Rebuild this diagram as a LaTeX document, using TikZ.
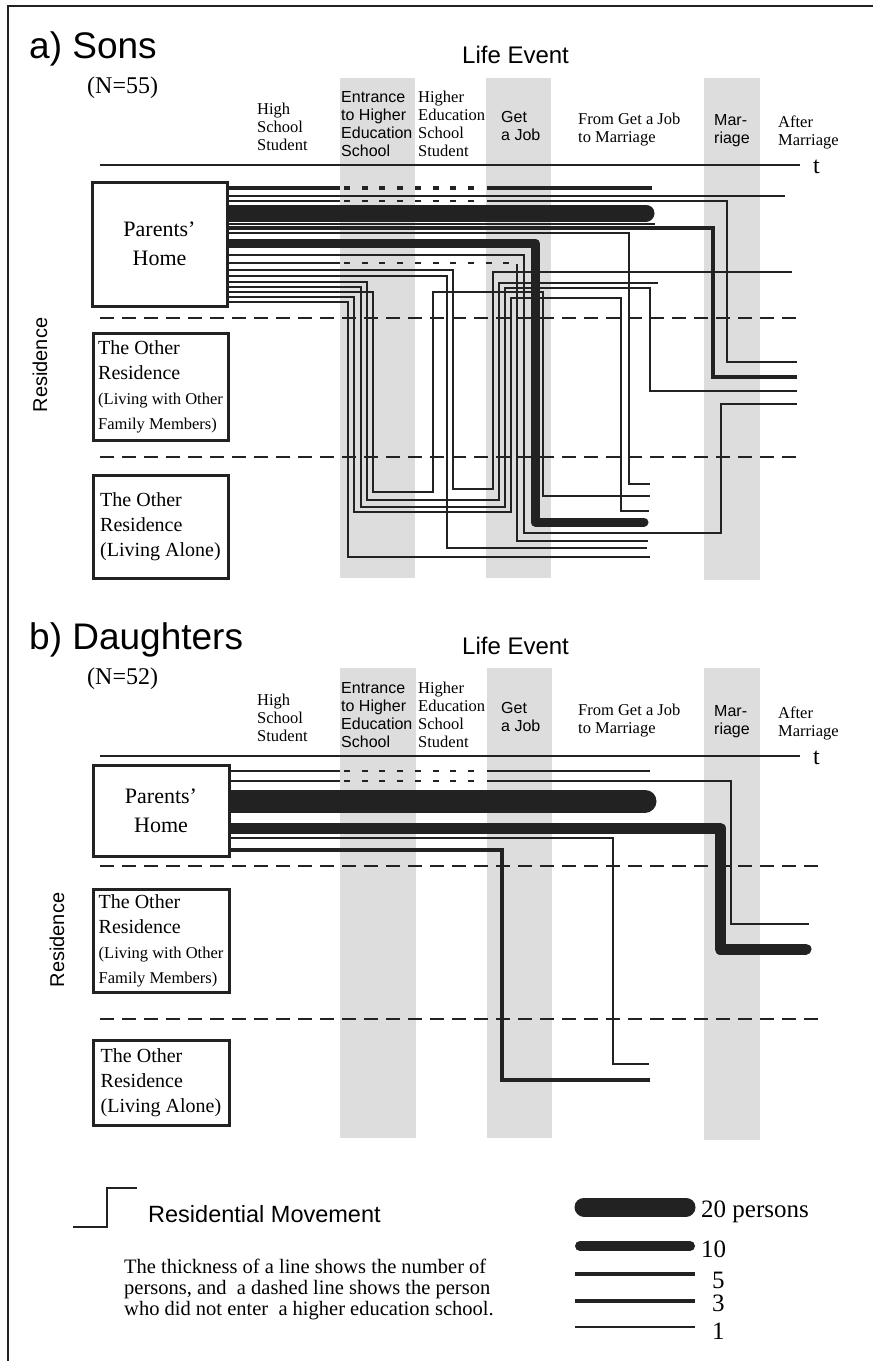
\documentclass[tikz,border=0pt]{standalone}
\usepackage{fontspec}
\setmainfont{Liberation Serif}
\setsansfont{Liberation Sans}
\usetikzlibrary{backgrounds}
\definecolor{ink}{HTML}{222222}
\definecolor{band}{HTML}{DDDDDD}
\newcommand{\fsz}[2]{\fontsize{#1}{#2}\selectfont}
\tikzset{
  res/.style={draw=ink,line width=3pt,fill=white,inner sep=0pt,align=left,font=\fsz{20}{25}},
  hd/.style={anchor=north west,inner sep=0pt,align=left,font=\sffamily\fsz{16}{18}},
  hds/.style={anchor=north west,inner sep=0pt,align=left,font=\fsz{16.5}{18}},
  big/.style={anchor=base west,inner sep=0pt,font=\sffamily\fsz{37}{40}},
  ev/.style={anchor=base west,inner sep=0pt,font=\sffamily\fsz{24}{28}},
  txt/.style={anchor=base west,inner sep=0pt,font=\fsz{24}{28}},
  lg/.style={anchor=base west,inner sep=0pt,font=\fsz{25}{28}},
  axis/.style={ink,line width=1.4pt},
  sep/.style={ink,line width=1.2pt,dash pattern=on 14pt off 8pt},
  p1/.style={ink,line width=1.4pt},
  p3/.style={ink,line width=2.5pt},
  p5/.style={ink,line width=4pt},
  p10/.style={ink,line width=9pt,line cap=round,line join=round},
  p20/.style={ink,line width=17pt,line cap=round},
  gap/.style={dash pattern=on 6pt off 11.7pt}}

\begin{document}
\begin{tikzpicture}[x=1pt,y=-1pt]
\useasboundingbox (0,0) rectangle (873,1361);
\draw[ink,line width=1.5pt] (8,1361) -- (8,6) -- (873,6);

% headings, the same in both parts
\foreach \dy/\who/\nn in {0/{a) Sons}/55,591/{b) Daughters}/52}{
\begin{scope}[yshift=-\dy pt]
\node[big] (ttl\dy) at (29,58) {\who};
\node[ev] (ev\dy) at (462,63) {Life Event};
\node[txt] (n\dy) at (87,93) {(N=\nn)};
\node[hds] (hs\dy) at (257,103) {High\\School\\Student};
\node[hd] (en\dy) at (341,91) {Entrance\\to Higher\\Education\\School};
\node[hds] (he\dy) at (418,91) {Higher\\Education\\School\\Student};
\node[hd] (job\dy) at (501,111) {Get\\a Job};
\node[hds] (fj\dy) at (578,113) {From Get a Job\\to Marriage};
\node[hd] (mar\dy) at (714,114) {Mar-\\riage};
\node[hds] (am\dy) at (778,116) {After\\Marriage};
\node[txt] (t\dy) at (813,173) {t};
\draw[axis] (100,165) -- (800,165);
\end{scope}}

% residences
\node[res,minimum width=135pt,minimum height=124pt,align=center,font=\fsz{22}{29}] (home1) at (159.5,244) {Parents'\\Home};
\node[res,minimum width=135pt,minimum height=107pt] (kin1) at (160.5,386.5) {The Other\\Residence\\\fsz{16.5}{21}(Living with Other\\\fsz{16.5}{21}Family Members)};
\node[res,minimum width=135pt,minimum height=103pt] (alone1) at (160.5,526.5) {The Other\\Residence\\(Living Alone)};
\node[res,minimum width=136pt,minimum height=91pt,align=center,font=\fsz{22}{29}] (home2) at (161,810.5) {Parents'\\Home};
\node[res,minimum width=136pt,minimum height=103pt] (kin2) at (161,940.5) {The Other\\Residence\\\fsz{16.5}{21}(Living with Other\\\fsz{16.5}{21}Family Members)};
\node[res,minimum width=136pt,minimum height=85pt] (alone2) at (161,1082.5) {The Other\\Residence\\(Living Alone)};
\node[rotate=90,font=\sffamily\fsz{20}{24}] (rs1) at (40,365) {Residence};
\node[rotate=90,font=\sffamily\fsz{20}{24}] (rs2) at (57,940) {Residence};

\begin{scope}[on background layer]
\fill[white] (0,0) rectangle (873,1361);
% event bands
\fill[band] (340,78) rectangle (415,578);
\fill[band] (486,78) rectangle (551,578);
\fill[band] (704,78) rectangle (760,580);
\fill[band] (340,668) rectangle (416,1138);
\fill[band] (487,668) rectangle (552,1138);
\fill[band] (704,668) rectangle (760,1140);
\draw[sep] (100,318) -- (800,318);
\draw[sep] (100,457) -- (800,457);
\draw[sep] (100,866) -- (822,866);
\draw[sep] (100,1019) -- (822,1019);

% sons
\draw[p5] (home1.east|-0,188) -- (340,188);
\draw[p5,gap] (344,188) -- (483,188);
\draw[p5] (487,188) -- (652,188);
\draw[p1] (home1.east|-0,196) -- (785,196);
\draw[p3] (home1.east|-0,201) -- (340,201);
\draw[p3,gap] (344,201) -- (483,201);
\draw[p3] (487,201) -- (727,201) -- (727,362) -- (797,362);
\draw[p20] (home1.east|-0,213) -- (646,213);
\draw[p1] (home1.east|-0,224) -- (655,224);
\draw[p5] (home1.east|-0,228) -- (713,228) -- (713,377) -- (797,377);
\draw[p1] (home1.east|-0,233) -- (629,233) -- (629,484) -- (650,484);
\draw[p10] (home1.east|-0,243) -- (535,243) -- (535,522) -- (644,522);
\draw[p1] (home1.east|-0,255) -- (524,255) -- (524,533) -- (721,533) -- (721,404) -- (797,404);
\draw[p1] (home1.east|-0,263) -- (340,263);
\draw[p1,gap] (344,263) -- (512,263);
\draw[p1] (517,264) -- (517,541) -- (648,541);
\draw[p1] (home1.east|-0,270) -- (453,270) -- (453,489) -- (493,489) -- (493,272) -- (792,272);
\draw[p1] (home1.east|-0,276) -- (447,276) -- (447,548) -- (647,548);
\draw[p3] (home1.east|-0,282) -- (367,282) -- (367,500) -- (499,500) -- (499,283) -- (658,283);
\draw[p3] (home1.east|-0,287) -- (361,287) -- (361,507) -- (505,507) -- (505,288) -- (650,288) -- (650,391) -- (797,391);
\draw[p1] (home1.east|-0,292) -- (373,292) -- (373,492) -- (433,492) -- (433,292) -- (543,292) -- (543,496) -- (650,496);
\draw[p1] (home1.east|-0,297) -- (354,297) -- (354,512) -- (511,512) -- (511,298) -- (621,298) -- (621,511) -- (649,511);
\draw[p3] (home1.east|-0,302) -- (348,302) -- (348,557) -- (650,557);

% daughters
\draw[p1] (home2.east|-0,771) -- (340,771);
\draw[p1,gap] (344,771) -- (483,771);
\draw[p1] (487,771) -- (650,771);
\draw[p1] (home2.east|-0,781) -- (340,781);
\draw[p1,gap] (344,781) -- (483,781);
\draw[p1] (487,781) -- (731,781) -- (731,924) -- (809,924);
\draw[p20,line width=23pt] (home2.east|-0,801) -- (645,801);
\draw[p10,line width=11pt] (home2.east|-0,828) -- (720,828) -- (720,949) -- (806,949);
\draw[p1] (home2.east|-0,838) -- (613,838) -- (613,1064) -- (649,1064);
\draw[p5] (home2.east|-0,850) -- (502,850) -- (502,1080) -- (650,1080);
\end{scope}

% legend
\draw[p1,line width=1.8pt] (73,1227) -- (107,1227) -- (107,1188) -- (137,1188);
\node[anchor=base west,inner sep=0pt,font=\sffamily\fsz{23.5}{26}] (mv) at (148,1222) {Residential Movement};
\node[anchor=north west,inner sep=0pt,align=left,font=\fsz{20.5}{21}] (note) at (124,1259) {The thickness of a line shows the number of\\persons, and\ \ a dashed line shows the person\\who did not enter\ \ a higher education school.};
\draw[p20,line width=19pt] (584,1207) -- (686,1207);
\draw[p10,line width=10pt] (580,1246) -- (690,1246);
\draw[p5] (575,1274) -- (695,1274);
\draw[p3,line width=3.4pt] (575,1301) -- (695,1301);
\draw[p1,line width=1.8pt] (575,1327) -- (695,1327);
\node[lg] (l20) at (701,1217) {20 persons};
\node[lg] (l10) at (701,1257) {10};
\node[lg] (l5) at (712,1288) {5};
\node[lg] (l3) at (712,1311) {3};
\node[lg] (l1) at (712,1339) {1};
\end{tikzpicture}
\end{document}
